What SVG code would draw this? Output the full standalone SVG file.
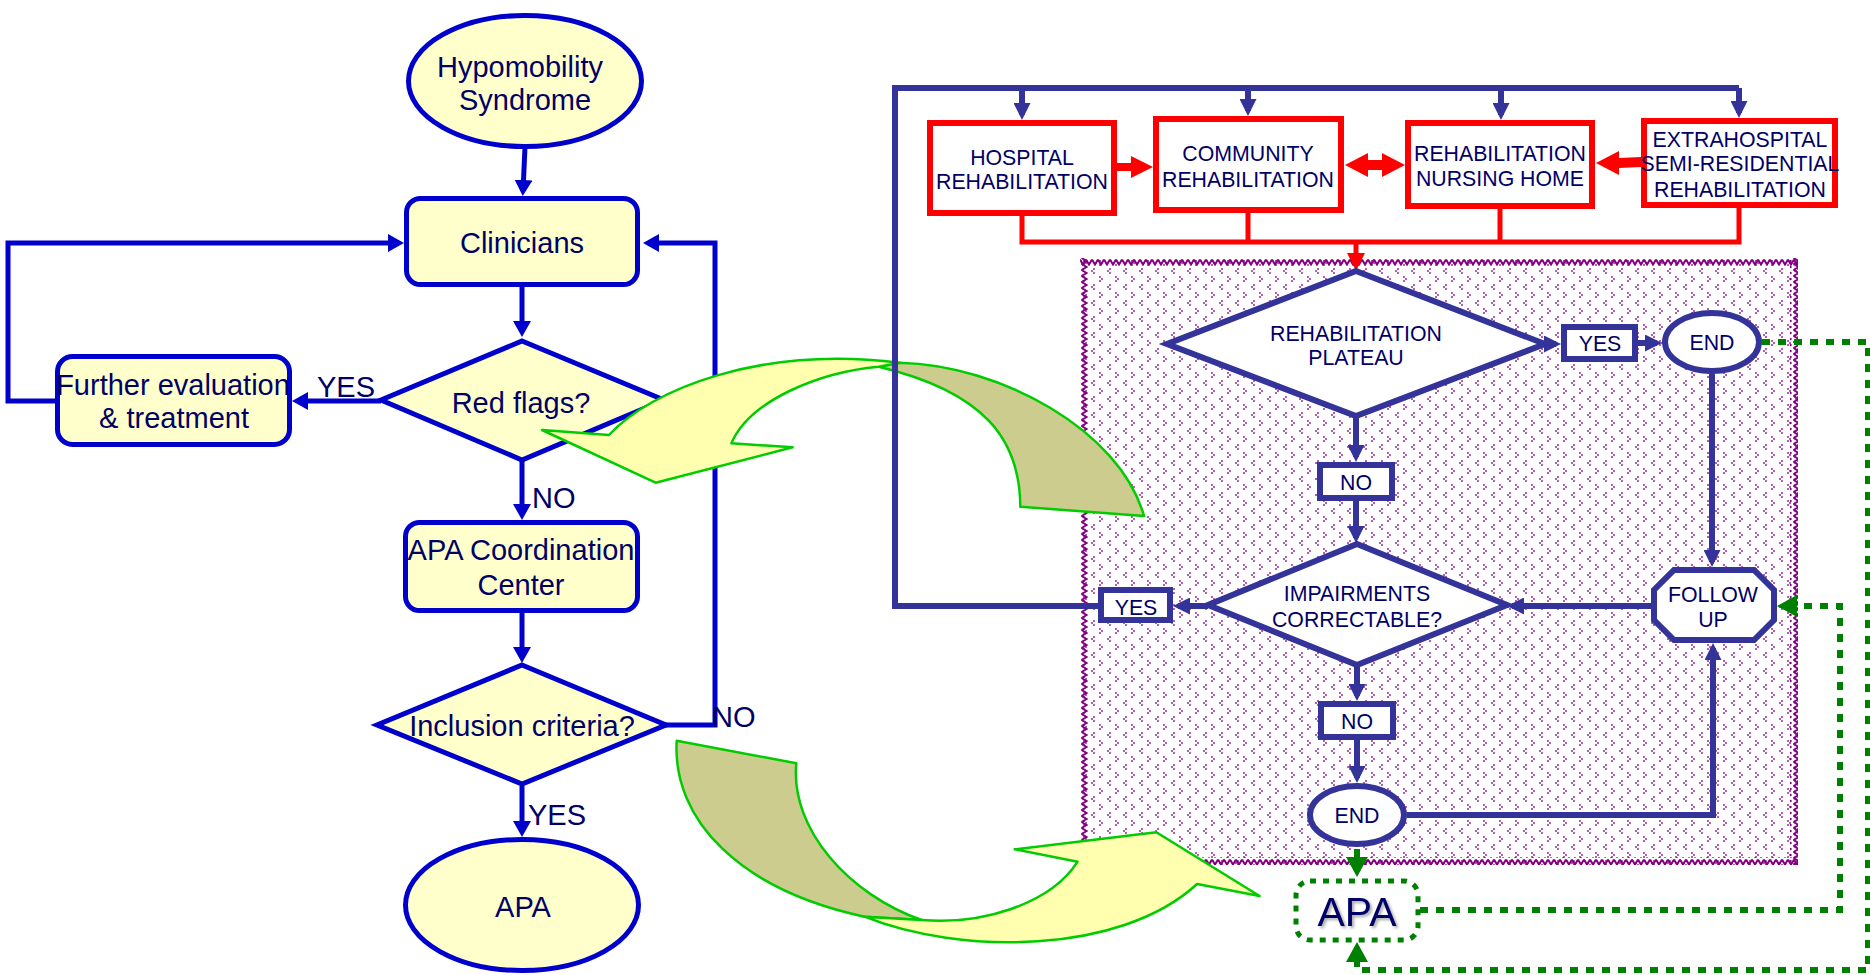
<svg xmlns="http://www.w3.org/2000/svg" width="1870" height="975" viewBox="0 0 1870 975">
  <style>
    .lt { font-family: 'Liberation Sans', Arial, sans-serif; font-size: 29px; fill: #000066; text-anchor: middle; }
    .ll { font-family: 'Liberation Sans', Arial, sans-serif; font-size: 29px; fill: #000066; }
    .rt { font-family: 'Liberation Sans', Arial, sans-serif; font-size: 21.3px; fill: #000066; text-anchor: middle; }
    .lnode { fill: #FFFFCC; stroke: #0000CC; stroke-width: 5; }
    .lcon { fill: none; stroke: #0000CC; stroke-width: 5; marker-end: url(#mB); }
    .rnode { fill: #FFFFFF; stroke: #333399; stroke-width: 6; }
    .rbox { fill: #FFFFFF; stroke: #FF0000; stroke-width: 6; }
    .rcon { fill: none; stroke: #333399; stroke-width: 6; marker-end: url(#mN); }
    .rline { fill: none; stroke: #333399; stroke-width: 6; }
    .redline { fill: none; stroke: #FF0000; stroke-width: 5; }
    .gcon { fill: none; stroke: #008000; stroke-width: 6; stroke-dasharray: 8 8; marker-end: url(#mG); }
    .front { fill: #FFFFAF; stroke: #00CC00; stroke-width: 2.5; stroke-linejoin: round; }
    .back { fill: #CCCC8F; stroke: #00CC00; stroke-width: 2.5; stroke-linejoin: round; }
  </style>
  <defs>
    <marker id="mB" viewBox="0 0 16 18" refX="11" refY="9" markerWidth="16" markerHeight="18" markerUnits="userSpaceOnUse" orient="auto">
      <path d="M0,0 L16,9 L0,18 Z" fill="#0000CC"/>
    </marker>
    <marker id="mN" viewBox="0 0 17 17" refX="12" refY="8.5" markerWidth="17" markerHeight="17" markerUnits="userSpaceOnUse" orient="auto">
      <path d="M0,0 L17,8.5 L0,17 Z" fill="#333399"/>
    </marker>
    <marker id="mR" viewBox="0 0 18 18" refX="13" refY="9" markerWidth="18" markerHeight="18" markerUnits="userSpaceOnUse" orient="auto">
      <path d="M0,0 L18,9 L0,18 Z" fill="#FF0000"/>
    </marker>
    <marker id="mG" viewBox="0 0 20 22" refX="15" refY="11" markerWidth="20" markerHeight="22" markerUnits="userSpaceOnUse" orient="auto">
      <path d="M0,0 L20,11 L0,22 Z" fill="#008000"/>
    </marker>
    <!-- small chevron texture for the rehabilitation area -->
    <pattern id="chev" x="1080" y="258" width="16" height="16" patternUnits="userSpaceOnUse">
      <g fill="#B45FB4">
        <rect x="3" y="2" width="2" height="2"/>
        <rect x="5" y="4" width="2" height="2"/>
        <rect x="3" y="6" width="2" height="2"/>
        <rect x="13" y="10" width="2" height="2"/>
        <rect x="11" y="12" width="2" height="2"/>
        <rect x="13" y="14" width="2" height="2"/>
      </g>
    </pattern>
    <pattern id="zzH" x="1080" y="258" width="6" height="8" patternUnits="userSpaceOnUse">
      <path d="M0,1.5 L3,6.5 L6,1.5" fill="none" stroke="#800080" stroke-width="2"/>
    </pattern>
    <pattern id="zzV" x="1080" y="258" width="8" height="6" patternUnits="userSpaceOnUse">
      <path d="M1.5,0 L6.5,3 L1.5,6" fill="none" stroke="#800080" stroke-width="2"/>
    </pattern>
    <filter id="shadow" x="-20%" y="-20%" width="150%" height="160%">
      <feDropShadow dx="2" dy="2" stdDeviation="1.5" flood-color="#000000" flood-opacity="0.35"/>
    </filter>
  </defs>

  <rect width="1870" height="975" fill="#FFFFFF"/>

  <!-- ===== Left flow: referral pathway ===== -->
  <g id="left-connectors">
    <path class="lcon" d="M525,147 L523,191"/>
    <path class="lcon" d="M522,287 L522,332"/>
    <path class="lcon" d="M381,401 L297,401"/>
    <path class="lcon" d="M57,401 L8,401 L8,243 L399,243"/>
    <path class="lcon" d="M522,460 L522,515"/>
    <path class="lcon" d="M522,613 L522,658"/>
    <path class="lcon" d="M665,725 L715,725 L715,243 L648,243"/>
    <path class="lcon" d="M522,786 L522,832"/>
    <text class="ll" x="317" y="397">YES</text>
    <text class="ll" x="532" y="508">NO</text>
    <text class="ll" x="712" y="727">NO</text>
    <text class="ll" x="528" y="825">YES</text>
  </g>

  <g id="hypomobility">
    <ellipse class="lnode" cx="525" cy="81" rx="116.5" ry="65.5"/>
    <text class="lt" x="520" y="77">Hypomobility</text>
    <text class="lt" x="525" y="110">Syndrome</text>
  </g>
  <g id="clinicians">
    <rect class="lnode" x="406.5" y="198.5" width="231" height="86" rx="14"/>
    <text class="lt" x="522" y="253">Clinicians</text>
  </g>
  <g id="red-flags">
    <polygon class="lnode" points="522,341 664,400 522,460 381,400"/>
    <text class="lt" x="521" y="413">Red flags?</text>
  </g>
  <g id="further-evaluation">
    <rect class="lnode" x="57.5" y="356.5" width="232" height="88" rx="15"/>
    <text class="lt" x="173" y="395">Further evaluation</text>
    <text class="lt" x="174" y="428">&amp; treatment</text>
  </g>
  <g id="apa-coordination">
    <rect class="lnode" x="405.5" y="522.5" width="232" height="88" rx="14"/>
    <text class="lt" x="521" y="560">APA Coordination</text>
    <text class="lt" x="521" y="595">Center</text>
  </g>
  <g id="inclusion-criteria">
    <polygon class="lnode" points="522,665 666,725 522,784 377,725"/>
    <text class="lt" x="522" y="736">Inclusion criteria?</text>
  </g>
  <g id="apa-left">
    <ellipse class="lnode" cx="522" cy="905" rx="116.5" ry="65.5"/>
    <text class="lt" x="523" y="917">APA</text>
  </g>

  <!-- ===== Rehabilitation area background ===== -->
  <g id="rehab-area">
    <rect x="1080" y="258" width="718" height="607" fill="url(#chev)"/>
    <rect x="1080" y="258" width="718" height="8" fill="url(#zzH)"/>
    <rect x="1080" y="857" width="718" height="8" fill="url(#zzH)"/>
    <rect x="1080" y="258" width="8" height="607" fill="url(#zzV)"/>
    <rect x="1790" y="258" width="8" height="607" fill="url(#zzV)"/>
  </g>

  <!-- ===== Curved transfer arrows ===== -->
  <g id="arrow-upper">
    <path class="back" d="M878.7,366.7 L899.7,362.7 C1000,365 1120,430 1144,516 L1020.3,506.7 C1020,440 985,392 878.7,366.7 Z"/>
    <path class="front" d="M542,430 L609,435 C650,390 760,345 899.7,362.7 L878.7,366.7 C820,372 750,400 731.4,443.3 L792.6,447.3 L655.6,482.7 Z"/>
  </g>
  <g id="arrow-lower">
    <path class="back" d="M676.7,740.7 L796.3,763.3 C790,830 850,895 921.6,920 L864.5,916.7 C740,890 672,820 676.7,740.7 Z"/>
    <path class="front" d="M864.5,916.7 C960,955 1120,955 1197.1,884 L1259.6,896 L1156.3,832.3 L1014.7,849.3 L1077.6,861.7 C1050,905 980,925 921.6,920 Z"/>
  </g>

  <!-- ===== Right flow: rehabilitation settings ===== -->
  <g id="right-connectors">
    <path class="rline" d="M1098,606 L895,606 L895,88 L1739,88"/>
    <path class="rcon" d="M1022,88 L1022,115"/>
    <path class="rcon" d="M1248,88 L1248,111"/>
    <path class="rcon" d="M1501,88 L1501,115"/>
    <path class="rcon" d="M1739,88 L1739,113"/>
    <path class="redline" d="M1022,216 L1022,242 L1739,242 L1739,208"/>
    <path class="redline" d="M1248,213 L1248,242"/>
    <path class="redline" d="M1500,209 L1500,242"/>
    <path class="redline" d="M1356,242 L1356,266" marker-end="url(#mR)"/>
    <polygon fill="#FF0000" points="1117,163 1131,163 1131,156 1153,167 1131,178 1131,171 1117,171"/>
    <polygon fill="#FF0000" points="1345,165 1368,153 1368,160 1382,160 1382,153 1405,165 1382,177 1382,170 1368,170 1368,177"/>
    <polygon fill="#FF0000" points="1596,163 1619,151 1619,158 1641,157 1641,167 1619,168 1619,175"/>
    <path class="rcon" d="M1545,344 L1556,344"/>
    <path class="rcon" d="M1638,343 L1657,343"/>
    <path class="rcon" d="M1712,374 L1712,562"/>
    <path class="rcon" d="M1651,606 L1512,606"/>
    <path class="rcon" d="M1208,606 L1178,606"/>
    <path class="rcon" d="M1356,416 L1356,457"/>
    <path class="rcon" d="M1356,501 L1356,538"/>
    <path class="rcon" d="M1357,665 L1357,696"/>
    <path class="rcon" d="M1357,740 L1357,778"/>
    <path class="rcon" d="M1407,815 L1713,815 L1713,648"/>
    <path class="gcon" d="M1357,849 L1357,872"/>
    <path class="gcon" d="M1420,910 L1840,910 L1840,606 L1782,606"/>
    <path class="gcon" d="M1762,342 L1868,342 L1868,970 L1357,970 L1357,947"/>
  </g>

  <g id="hospital-rehab">
    <rect class="rbox" x="930" y="123" width="184" height="90"/>
    <text class="rt" x="1022" y="165">HOSPITAL</text>
    <text class="rt" x="1022" y="189">REHABILITATION</text>
  </g>
  <g id="community-rehab">
    <rect class="rbox" x="1156" y="119" width="185" height="91"/>
    <text class="rt" x="1248" y="161">COMMUNITY</text>
    <text class="rt" x="1248" y="187">REHABILITATION</text>
  </g>
  <g id="nursing-home">
    <rect class="rbox" x="1408" y="123" width="184" height="83"/>
    <text class="rt" x="1500" y="161">REHABILITATION</text>
    <text class="rt" x="1500" y="186">NURSING HOME</text>
  </g>
  <g id="extrahospital">
    <rect class="rbox" x="1644" y="121" width="191" height="84"/>
    <text class="rt" x="1740" y="147">EXTRAHOSPITAL</text>
    <text class="rt" x="1740" y="171">SEMI-RESIDENTIAL</text>
    <text class="rt" x="1740" y="197">REHABILITATION</text>
  </g>
  <g id="plateau">
    <polygon class="rnode" points="1356,271 1545,344 1356,416 1167,344"/>
    <text class="rt" x="1356" y="341">REHABILITATION</text>
    <text class="rt" x="1356" y="365">PLATEAU</text>
  </g>
  <g id="plateau-yes">
    <rect class="rnode" x="1564" y="327" width="71" height="32"/>
    <text class="rt" x="1600" y="351">YES</text>
  </g>
  <g id="end-top">
    <ellipse class="rnode" cx="1712" cy="342" rx="47" ry="29"/>
    <text class="rt" x="1712" y="350">END</text>
  </g>
  <g id="plateau-no">
    <rect class="rnode" x="1320" y="465" width="72" height="33"/>
    <text class="rt" x="1356" y="490">NO</text>
  </g>
  <g id="impairments">
    <polygon class="rnode" points="1357,544 1507,605 1357,665 1208,605"/>
    <text class="rt" x="1357" y="601">IMPAIRMENTS</text>
    <text class="rt" x="1357" y="627">CORRECTABLE?</text>
  </g>
  <g id="follow-up">
    <polygon class="rnode" points="1674,570 1754,570 1774,590 1774,620 1754,640 1674,640 1654,620 1654,590"/>
    <text class="rt" x="1713" y="602">FOLLOW</text>
    <text class="rt" x="1713" y="627">UP</text>
  </g>
  <g id="impairments-yes">
    <rect class="rnode" x="1101" y="590" width="69" height="30"/>
    <text class="rt" x="1136" y="615">YES</text>
  </g>
  <g id="impairments-no">
    <rect class="rnode" x="1321" y="704" width="72" height="33"/>
    <text class="rt" x="1357" y="729">NO</text>
  </g>
  <g id="end-bottom">
    <ellipse class="rnode" cx="1357" cy="815" rx="47" ry="29"/>
    <text class="rt" x="1357" y="823">END</text>
  </g>
  <g id="apa-right">
    <rect x="1296" y="881" width="122" height="59" rx="14" fill="#FFFFFF" stroke="#008000" stroke-width="5" stroke-dasharray="6 7"/>
    <text x="1357" y="926" text-anchor="middle" font-family="'Liberation Sans', Arial, sans-serif" font-size="41" fill="#000066" filter="url(#shadow)">APA</text>
  </g>
</svg>
